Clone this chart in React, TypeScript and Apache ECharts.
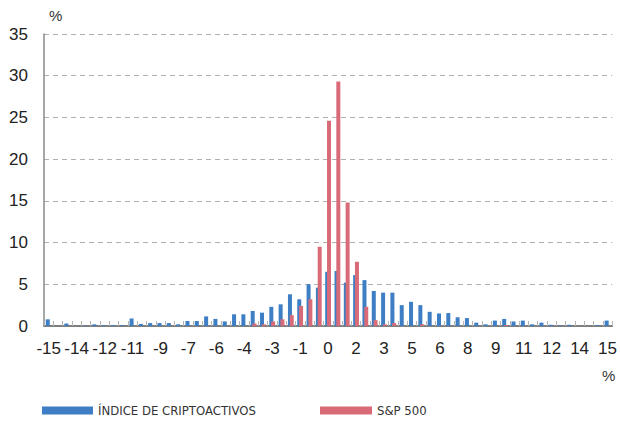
import React, { useEffect, useRef } from "react";
import * as echarts from "echarts";

const categories: string[] = [
  "-15", "-14.5", "-14", "-13.5", "-13", "-12.5", "-12", "-11.5", "-11", "-10.5",
  "-10", "-9.5", "-9", "-8.5", "-8", "-7.5", "-7", "-6.5", "-6", "-5.5",
  "-5", "-4.5", "-4", "-3.5", "-3", "-2.5", "-2", "-1.5", "-1", "-0.5",
  "0", "0.5", "1", "1.5", "2", "2.5", "3", "3.5", "4", "4.5",
  "5", "5.5", "6", "6.5", "7", "7.5", "8", "8.5", "9", "9.5",
  "10", "10.5", "11", "11.5", "12", "12.5", "13", "13.5", "14", "14.5",
  "15",
];

const xTickLabels: string[] = [
  "-15", "-14", "-12", "-11", "-9", "-7", "-6", "-4", "-3", "-1", "0",
  "2", "3", "5", "6", "8", "9", "11", "12", "14", "15",
];

const cryptoValues: number[] = [
  0.8, 0, 0.3, 0, 0.05, 0.2, 0.1, 0.1, 0.1, 0.9,
  0.25, 0.35, 0.35, 0.35, 0.2, 0.6, 0.6, 1.15, 0.85, 0.55,
  1.4, 1.4, 1.8, 1.6, 2.3, 2.6, 3.8, 3.2, 5.0, 4.6,
  6.5, 6.6, 5.2, 6.1, 5.5, 4.2, 4.0, 4.0, 2.5, 2.9,
  2.5, 1.7, 1.5, 1.55, 1.05, 0.95, 0.4, 0.2, 0.65, 0.85,
  0.55, 0.65, 0.2, 0.4, 0.15, 0.05, 0.15, 0, 0, 0.1,
  0.65,
];

const spValues: number[] = [
  0, 0, 0, 0, 0, 0, 0, 0, 0, 0,
  0, 0, 0, 0, 0, 0, 0, 0, 0, 0,
  0, 0, 0.3, 0.2, 0.55, 0.8, 1.3, 2.4, 3.2, 9.5,
  24.6, 29.3, 14.8, 7.7, 2.3, 0.7, 0.2, 0.35, 0, 0,
  0.2, 0, 0, 0, 0, 0, 0, 0, 0, 0.1,
  0, 0, 0, 0, 0, 0, 0, 0, 0, 0,
  0,
];

const seriesNames = ["ÍNDICE DE CRIPTOACTIVOS", "S&P 500"];
const BLUE = "#3d7ec4";
const RED = "#d96b79";

export default function App() {
  const ref = useRef<HTMLDivElement>(null);
  useEffect(() => {
    if (!ref.current) return;
    const chart = echarts.init(ref.current, null, { renderer: "svg" });
    const font = "'Liberation Sans', Arial, Helvetica, sans-serif";
    const narrow =
      "'Liberation Sans Narrow', 'Arial Narrow', 'DejaVu Sans Condensed', 'Liberation Sans', sans-serif";
    chart.setOption({
      animation: false,
      backgroundColor: "#ffffff",
      grid: { left: 44, right: 6, top: 34, bottom: 97, containLabel: false },
      legend: [
        {
          data: [seriesNames[0]],
          left: 42,
          top: 404,
          padding: 0,
          icon: "rect",
          itemWidth: 51,
          itemHeight: 8,
          itemGap: 8,
          textStyle: { fontFamily: narrow, fontSize: 13, color: "#333" },
        },
        {
          data: [seriesNames[1]],
          left: 320,
          top: 404,
          padding: 0,
          icon: "rect",
          itemWidth: 52,
          itemHeight: 8,
          itemGap: 8,
          textStyle: { fontFamily: narrow, fontSize: 13, color: "#333" },
        },
      ],
      xAxis: {
        type: "category",
        data: categories,
        boundaryGap: true,
        axisLine: { lineStyle: { color: "#7f7f7f", width: 2 } },
        axisTick: {
          show: true,
          inside: true,
          length: 5,
          interval: 0,
          lineStyle: { color: "#b5b5b5", width: 1 },
        },
        axisLabel: {
          interval: 2,
          margin: 14,
          fontFamily: font,
          fontSize: 17,
          color: "#222",
          formatter: (_v: string, i: number) => xTickLabels[Math.round(i / 3)] ?? "",
        },
        splitLine: { show: false },
      },
      yAxis: {
        type: "value",
        min: 0,
        max: 35,
        interval: 5,
        axisLine: { show: true, lineStyle: { color: "#8a8a8a", width: 1.5 } },
        axisTick: { show: false },
        axisLabel: { margin: 16, fontFamily: font, fontSize: 17, color: "#222" },
        splitLine: { lineStyle: { color: "#b0b0b0", type: [5, 4], width: 1.2 } },
      },
      graphic: [
        {
          type: "text",
          left: 49,
          top: 8,
          style: { text: "%", fontFamily: font, fontSize: 15, fill: "#333" },
        },
        {
          type: "text",
          left: 602,
          top: 368,
          style: { text: "%", fontFamily: font, fontSize: 15, fill: "#333" },
        },
      ],
      series: [
        {
          name: seriesNames[0],
          type: "bar",
          data: cryptoValues,
          barWidth: 4,
          barGap: "-55%",
          itemStyle: { color: BLUE },
        },
        {
          name: seriesNames[1],
          type: "bar",
          data: spValues,
          barWidth: 4,
          itemStyle: { color: RED },
        },
      ],
    });
    return () => chart.dispose();
  }, []);
  return (
    <div
      ref={ref}
      style={{ position: "fixed", left: 0, top: 0, width: 620, height: 423 }}
    />
  );
}
